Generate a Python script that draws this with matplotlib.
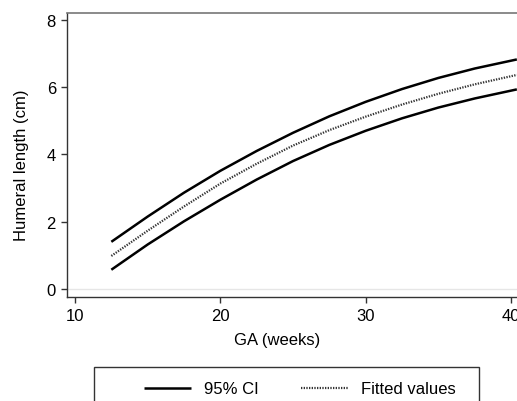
import matplotlib.pyplot as plt
from matplotlib.patches import Rectangle

plt.rcParams['font.family'] = ['Liberation Sans', 'DejaVu Sans']

# values
ga = [12.5, 15, 17.5, 20, 22.5, 25, 27.5, 30, 32.5, 35, 37.5, 40.4]
ci_upper = [1.40, 2.15, 2.86, 3.51, 4.10, 4.64, 5.13, 5.56, 5.94, 6.27, 6.55, 6.82]
fitted = [0.98, 1.73, 2.45, 3.13, 3.72, 4.26, 4.72, 5.12, 5.48, 5.80, 6.08, 6.36]
ci_lower = [0.57, 1.32, 2.01, 2.65, 3.25, 3.80, 4.28, 4.70, 5.07, 5.39, 5.66, 5.93]

xticks = [10, 20, 30, 40]
yticks = [0, 2, 4, 6, 8]

W, H = 517, 402
fs = 12
fig = plt.figure(figsize=(W / 100, H / 100), dpi=100)
ax = fig.add_axes([67 / W, 1 - 298 / H, 1 - 67 / W, (298 - 14) / H])

ax.axhline(0, color='#e6e6e6', lw=1, zorder=0)
l_ci, = ax.plot(ga, ci_upper, color='black', lw=1.8, solid_capstyle='butt')
ax.plot(ga, ci_lower, color='black', lw=1.8, solid_capstyle='butt')
l_fit, = ax.plot(ga, fitted, color='#333333', lw=1.6, ls=(0, (0.6, 0.6)))

ax.set_xlim(9.45, 40.41)
ax.set_ylim(-0.24, 8.2)
ax.set_xticks(xticks)
ax.set_yticks(yticks)
ax.tick_params(direction='out', length=4, width=1, labelsize=fs, pad=4, color='#333333')

ax.spines['right'].set_visible(False)
for s in ['left', 'bottom']:
    ax.spines[s].set_color('#333333')
    ax.spines[s].set_linewidth(1)
ax.spines['top'].set_color('#777777')
ax.spines['top'].set_linewidth(1.2)

fig.text(277 / W, 1 - 341 / H, 'GA (weeks)', ha='center', va='center', fontsize=fs)
fig.text(22 / W, 1 - 165 / H, 'Humeral length (cm)', ha='center', va='center',
         rotation=90, fontsize=fs)

# legend box (cut off at bottom edge, as in the picture)
fig.patches.append(Rectangle((94 / W, -0.1), (479 - 94) / W, (402 - 368) / H + 0.1,
                             transform=fig.transFigure, fill=False,
                             edgecolor='#333333', lw=1))
fig.legend([l_ci, l_fit], ['95% CI', 'Fitted values'], ncol=2, frameon=False,
           loc='center', bbox_to_anchor=(300 / W, 1 - 390 / H), fontsize=fs,
           handlelength=2.8, handletextpad=0.8, columnspacing=2.5)

fig.savefig('out.png', dpi=100)
